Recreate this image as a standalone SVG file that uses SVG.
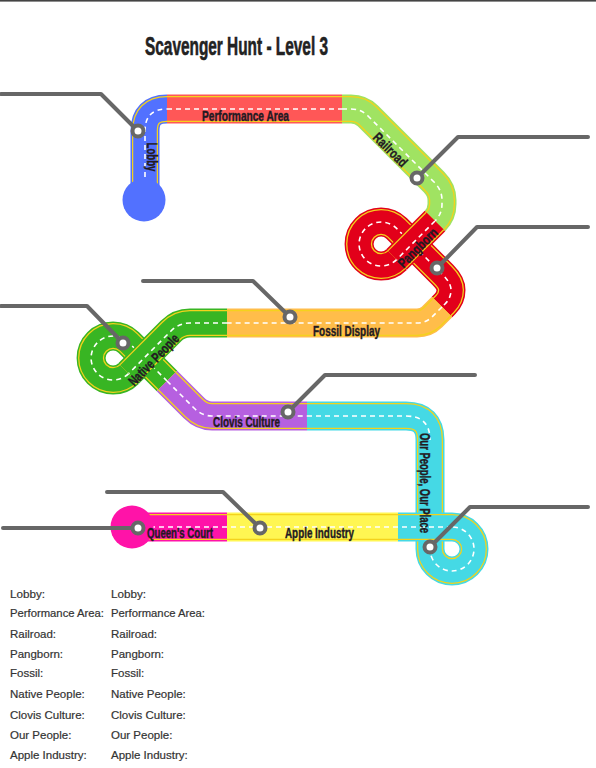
<svg xmlns="http://www.w3.org/2000/svg" xmlns:xlink="http://www.w3.org/1999/xlink" width="596" height="768" viewBox="0 0 596 768">
<style>
.edge{fill:none;stroke-width:29}
.rim{fill:none;stroke:#F4D21C;stroke-width:26}
.body{fill:none;stroke-width:23.5}
.dash{fill:none;stroke:#fff;stroke-width:1.6;stroke-dasharray:5 4}
.lbl{font-family:"Liberation Sans",Arial,sans-serif;font-weight:bold;font-size:14px;fill:#231a22;stroke:#231a22;stroke-width:0.4;text-anchor:middle}
.leader{fill:none;stroke:#676767;stroke-width:4;stroke-linecap:round;stroke-linejoin:round}
.dot{fill:#fff;stroke:#676767;stroke-width:4}
.legend{font-family:"Liberation Sans",Arial,sans-serif;font-size:11.5px;fill:#333;stroke:#333;stroke-width:0.2}
.title{font-family:"Liberation Sans",Arial,sans-serif;font-weight:bold;font-size:25px;fill:#222;stroke:#222;stroke-width:0.6}
</style>
<defs>
<path id="p-lobby" d="M145,195 V131 Q145,109 167,109"/>
<path id="p-perf" d="M167,109 H342"/>
<path id="p-rail" d="M342,109 H351 Q361,109 368,116 L434,182 Q442,190 442,200 V204 Q442,214 435,221"/>
<path id="p-pang1" d="M435,221 L396.6,259.6"/>
<path id="p-pang2" d="M396.6,259.6 A22,22 0 1 1 396.6,228.4 L443,275 Q451,283 451,290 Q451,298 445,304 L442,307"/>
<path id="p-fossil" d="M442,307 L432,317 Q426,323 417,323 H227"/>
<path id="p-nat1" d="M227,323 H190 Q179,323 171,331 L128.6,373.6"/>
<path id="p-nat2" d="M128.6,373.6 A22,22 0 1 1 128.6,342.4 L167,381"/>
<path id="p-clovis" d="M167,381 L194,408 Q202,416 212,416 H307"/>
<path id="p-our1" d="M307,416 H406 Q430,416 430,440 V549 A22,22 0 1 0 452,527"/>
<path id="p-our2" d="M452,527 H398"/>
<path id="p-apple" d="M398,527 H227"/>
<path id="p-queen" d="M227,527 H140"/>
</defs>

<rect x="0" y="0" width="596" height="1.6" fill="#444"/>
<text class="title" x="236.5" y="55" text-anchor="middle" textLength="183" lengthAdjust="spacingAndGlyphs">Scavenger Hunt - Level 3</text>

<g id="lobby">
<use href="#p-lobby" class="edge" stroke="#5271FF"/>
<use href="#p-lobby" class="rim"/>
<use href="#p-lobby" class="body" stroke="#5271FF"/>
<use href="#p-lobby" class="dash"/>
<circle cx="144" cy="200" r="21.5" fill="#5271FF"/>
<text class="lbl" transform="translate(151,157) rotate(90)" x="0" y="4.5" textLength="29" lengthAdjust="spacingAndGlyphs">Lobby</text>
</g>

<g id="performance-area">
<use href="#p-perf" class="edge" stroke="#FF5757"/>
<use href="#p-perf" class="rim"/>
<use href="#p-perf" class="body" stroke="#FF5757"/>
<use href="#p-perf" class="dash"/>
<text class="lbl" x="245.5" y="121" textLength="87" lengthAdjust="spacingAndGlyphs">Performance Area</text>
</g>

<g id="railroad">
<use href="#p-rail" class="edge" stroke="#A0E362"/>
<use href="#p-rail" class="rim"/>
<use href="#p-rail" class="body" stroke="#A0E362"/>
<use href="#p-rail" class="dash"/>
<text class="lbl" transform="translate(390,150) rotate(45)" x="0" y="4.5" textLength="42" lengthAdjust="spacingAndGlyphs">Railroad</text>
</g>

<g id="pangborn">
<use href="#p-pang2" class="edge" stroke="#E2001A"/>
<use href="#p-pang2" class="rim"/>
<use href="#p-pang2" class="body" stroke="#E2001A"/>
<use href="#p-pang2" class="dash"/>
<use href="#p-pang1" class="edge" stroke="#E2001A"/>
<use href="#p-pang1" class="rim"/>
<use href="#p-pang1" class="body" stroke="#E2001A"/>
<use href="#p-pang1" class="dash"/>
<text class="lbl" transform="translate(418,248) rotate(-45)" x="0" y="4.5" textLength="50" lengthAdjust="spacingAndGlyphs">Pangborn</text>
</g>

<g id="fossil-display">
<use href="#p-fossil" class="edge" stroke="#FFBD4A"/>
<use href="#p-fossil" class="rim"/>
<use href="#p-fossil" class="body" stroke="#FFBD4A"/>
<use href="#p-fossil" class="dash"/>
<text class="lbl" x="346.5" y="336" textLength="67" lengthAdjust="spacingAndGlyphs">Fossil Display</text>
</g>

<g id="native-people">
<use href="#p-nat2" class="edge" stroke="#38B523"/>
<use href="#p-nat2" class="rim"/>
<use href="#p-nat2" class="body" stroke="#38B523"/>
<use href="#p-nat2" class="dash"/>
<use href="#p-nat1" class="edge" stroke="#38B523"/>
<use href="#p-nat1" class="rim"/>
<use href="#p-nat1" class="body" stroke="#38B523"/>
<use href="#p-nat1" class="dash"/>
<text class="lbl" transform="translate(154,360) rotate(-46)" x="0" y="4.5" textLength="66" lengthAdjust="spacingAndGlyphs">Native People</text>
</g>

<g id="clovis-culture">
<use href="#p-clovis" class="edge" stroke="#B660E0"/>
<use href="#p-clovis" class="rim"/>
<use href="#p-clovis" class="body" stroke="#B660E0"/>
<use href="#p-clovis" class="dash"/>
<text class="lbl" x="246.5" y="427" textLength="67" lengthAdjust="spacingAndGlyphs">Clovis Culture</text>
</g>

<g id="our-people">
<use href="#p-our1" class="edge" stroke="#45D9E5"/>
<use href="#p-our1" class="rim"/>
<use href="#p-our1" class="body" stroke="#45D9E5"/>
<path class="dash" d="M307,416 H406 Q430,416 430,440"/>
<path class="dash" d="M430,538 V549 A22,22 0 1 0 452,527"/>
<use href="#p-our2" class="edge" stroke="#45D9E5"/>
<use href="#p-our2" class="rim"/>
<use href="#p-our2" class="body" stroke="#45D9E5"/>
<use href="#p-our2" class="dash"/>
<text class="lbl" transform="translate(424,483) rotate(90)" x="0" y="4.5" textLength="100" lengthAdjust="spacingAndGlyphs">Our People, Our Place</text>
</g>

<g id="apple-industry">
<use href="#p-apple" class="edge" stroke="#FFF652"/>
<use href="#p-apple" class="rim"/>
<use href="#p-apple" class="body" stroke="#FFF652"/>
<use href="#p-apple" class="dash"/>
<text class="lbl" x="319.5" y="538" textLength="69" lengthAdjust="spacingAndGlyphs">Apple Industry</text>
</g>

<g id="queens-court">
<use href="#p-queen" class="edge" stroke="#FF13A8"/>
<use href="#p-queen" class="rim"/>
<use href="#p-queen" class="body" stroke="#FF13A8"/>
<use href="#p-queen" class="dash"/>
<circle cx="132" cy="527" r="21.5" fill="#FF13A8"/>
<text class="lbl" x="180" y="538" textLength="66" lengthAdjust="spacingAndGlyphs">Queen's Court</text>
</g>

<g id="connectors">
<path class="leader" d="M1,94 H101 L138,131"/>
<path class="leader" d="M588,137 H458 L417,178"/>
<path class="leader" d="M588,227 H477 L437,268"/>
<path class="leader" d="M1,306 H87 L123,343"/>
<path class="leader" d="M143,281 H253 L290,317"/>
<path class="leader" d="M475,375 H325 L288,412"/>
<path class="leader" d="M588,507 H470 L430,547"/>
<path class="leader" d="M107,492 H223 L260,528"/>
<path class="leader" d="M3,528 H138"/>
<circle class="dot" cx="138" cy="131" r="5.5"/>
<circle class="dot" cx="417" cy="178" r="5.5"/>
<circle class="dot" cx="437" cy="268" r="5.5"/>
<circle class="dot" cx="123" cy="343" r="5.5"/>
<circle class="dot" cx="290" cy="317" r="5.5"/>
<circle class="dot" cx="288" cy="412" r="5.5"/>
<circle class="dot" cx="430" cy="547" r="5.5"/>
<circle class="dot" cx="260" cy="528" r="5.5"/>
<circle class="dot" cx="138" cy="528" r="5.5"/>
</g>

<g id="legend" class="legend">
<text x="10" y="598" textLength="35" lengthAdjust="spacingAndGlyphs">Lobby:</text>
<text x="10" y="617" textLength="94" lengthAdjust="spacingAndGlyphs">Performance Area:</text>
<text x="10" y="638">Railroad:</text>
<text x="10" y="658">Pangborn:</text>
<text x="10" y="677">Fossil:</text>
<text x="10" y="698">Native People:</text>
<text x="10" y="719">Clovis Culture:</text>
<text x="10" y="739">Our People:</text>
<text x="10" y="759">Apple Industry:</text>
<text x="111" y="598" textLength="35" lengthAdjust="spacingAndGlyphs">Lobby:</text>
<text x="111" y="617" textLength="94" lengthAdjust="spacingAndGlyphs">Performance Area:</text>
<text x="111" y="638">Railroad:</text>
<text x="111" y="658">Pangborn:</text>
<text x="111" y="677">Fossil:</text>
<text x="111" y="698">Native People:</text>
<text x="111" y="719">Clovis Culture:</text>
<text x="111" y="739">Our People:</text>
<text x="111" y="759">Apple Industry:</text>
</g>
</svg>
